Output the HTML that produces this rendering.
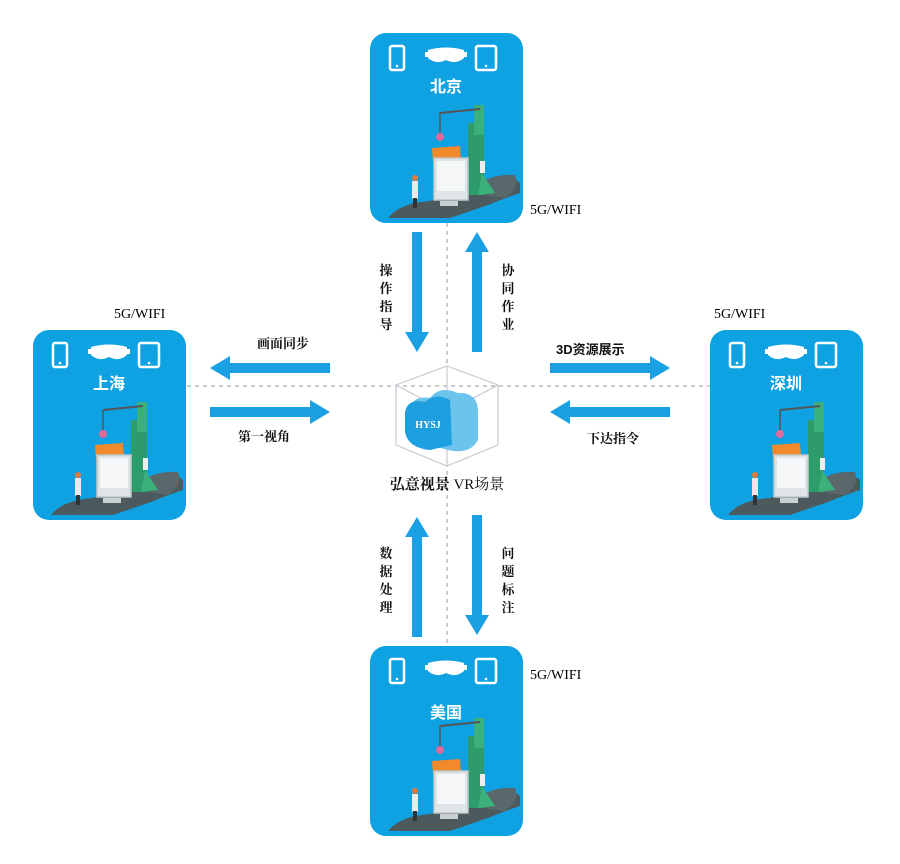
<!DOCTYPE html>
<html><head><meta charset="utf-8"><style>
html,body{margin:0;padding:0;background:#fff;}
svg{display:block;}
text{font-family:"Liberation Serif","Noto Serif CJK SC",serif;}
.cn{font-family:"Liberation Sans","Noto Sans CJK SC",sans-serif;font-weight:bold;}
</style></head><body>
<svg width="900" height="864" viewBox="0 0 900 864" xmlns="http://www.w3.org/2000/svg">
<defs>
<g id="card">
  <rect x="0" y="0" width="153" height="190" rx="16" fill="#0ea2e3"/>
  <!-- phone -->
  <rect x="20" y="13" width="14" height="24" rx="2" fill="none" stroke="#fff" stroke-width="2.5"/>
  <circle cx="27" cy="33" r="1.3" fill="#fff"/>
  <!-- goggles -->
  <path d="M58 17 Q76 12 94 17 L94 25 Q86 32 76 27 Q66 32 58 25 Z" fill="#fff"/>
  <rect x="55" y="19" width="3" height="5" fill="#fff"/><rect x="94" y="19" width="3" height="5" fill="#fff"/>
  <!-- tablet -->
  <rect x="106" y="13" width="20" height="24" rx="2" fill="none" stroke="#fff" stroke-width="2.5"/>
  <circle cx="116" cy="33" r="1.3" fill="#fff"/>
  <!-- illustration -->
  <path d="M18 185 Q30 170 60 168 L110 150 Q140 140 150 150 L150 160 Q135 165 118 172 L80 185 Z" fill="#4c5a5e"/>
  <path d="M100 160 Q115 140 145 142 Q150 155 135 165 Z" fill="#5a686b"/>
  <rect x="98" y="90" width="16" height="72" fill="#2e9b6a"/>
  <rect x="104" y="72" width="10" height="30" fill="#3bb07a"/>
  <line x1="70" y1="80" x2="110" y2="76" stroke="#555" stroke-width="2"/>
  <line x1="70" y1="80" x2="70" y2="100" stroke="#555" stroke-width="1.5"/>
  <circle cx="70" cy="104" r="4" fill="#e06a9a"/>
  <path d="M62 115 L90 113 L92 140 L64 142 Z" fill="#f08a2a"/>
  <rect x="64" y="125" width="34" height="42" fill="#dfe4e6" stroke="#bfc7ca" stroke-width="1.5"/>
  <rect x="67" y="128" width="28" height="30" fill="#f5f7f8"/>
  <rect x="70" y="168" width="18" height="5" fill="#c9d0d3"/>
  <rect x="42" y="148" width="6" height="18" fill="#e8eaeb"/>
  <rect x="43" y="165" width="4" height="10" fill="#333"/>
  <circle cx="45" cy="145" r="3" fill="#e07a3a"/>
  <rect x="110" y="128" width="5" height="12" fill="#eee"/>
  <path d="M112 140 L125 160 L108 162 Z" fill="#3bb07a"/>
</g>
<g id="arrowR"><path d="M0 -5 L100 -5 L100 -12 L120 0 L100 12 L100 5 L0 5 Z" fill="#1aa0e3"/></g>
</defs>

<!-- dashed lines -->
<line x1="187" y1="386" x2="710" y2="386" stroke="#9a9a9a" stroke-dasharray="4,4" stroke-width="1"/>
<line x1="447" y1="223" x2="447" y2="645" stroke="#9a9a9a" stroke-dasharray="4,4" stroke-width="1"/>

<!-- cards -->
<use href="#card" x="370" y="33"/>
<use href="#card" x="33" y="330"/>
<use href="#card" x="710" y="330"/>
<use href="#card" x="370" y="646"/>

<text x="446" y="92" class="cn" font-size="16" fill="#fff" text-anchor="middle">北京</text>
<text x="109" y="389" class="cn" font-size="16" fill="#fff" text-anchor="middle">上海</text>
<text x="786" y="389" class="cn" font-size="16" fill="#fff" text-anchor="middle">深圳</text>
<text x="446" y="718" class="cn" font-size="16" fill="#fff" text-anchor="middle">美国</text>

<text x="530" y="214" font-size="14">5G/WIFI</text>
<text x="114" y="318" font-size="14">5G/WIFI</text>
<text x="714" y="318" font-size="14">5G/WIFI</text>
<text x="530" y="679" font-size="14">5G/WIFI</text>

<!-- arrows vertical top -->
<use href="#arrowR" transform="translate(417,232) rotate(90)"/>
<use href="#arrowR" transform="translate(477,352) rotate(-90)"/>
<!-- bottom -->
<use href="#arrowR" transform="translate(417,637) rotate(-90)"/>
<use href="#arrowR" transform="translate(477,515) rotate(90)"/>
<!-- left -->
<use href="#arrowR" transform="translate(330,368) rotate(180)"/>
<use href="#arrowR" transform="translate(210,412)"/>
<!-- right -->
<use href="#arrowR" transform="translate(550,368)"/>
<use href="#arrowR" transform="translate(670,412) rotate(180)"/>

<!-- labels -->
<g class="cn" font-size="13" fill="#111" text-anchor="middle">
<text x="386" y="275">操</text><text x="386" y="293">作</text><text x="386" y="311">指</text><text x="386" y="329">导</text>
<text x="508" y="275">协</text><text x="508" y="293">同</text><text x="508" y="311">作</text><text x="508" y="329">业</text>
<text x="386" y="558">数</text><text x="386" y="576">据</text><text x="386" y="594">处</text><text x="386" y="612">理</text>
<text x="508" y="558">问</text><text x="508" y="576">题</text><text x="508" y="594">标</text><text x="508" y="612">注</text>
<text x="283" y="348">画面同步</text>
<text x="264" y="441">第一视角</text>
<text x="613" y="443">下达指令</text>
</g>
<text x="556" y="354" class="cn" font-size="13" fill="#111">3D资源展示</text>

<!-- center cube -->
<g stroke="#c8c8d4" stroke-width="1.2" fill="none">
<path d="M447 366 L498 385 L498 445 L447 466 L396 445 L396 385 Z"/>
<path d="M447 366 L447 412 M396 385 L447 412 L498 385 M447 412 L447 466"/>
</g>
<path d="M410 410 Q412 395 430 398 Q440 385 458 393 Q478 392 478 412 L478 440 Q470 455 448 450 L418 442 Q408 438 410 425 Z" fill="#6cc3ec"/>
<path d="M405 412 Q408 398 425 402 Q435 392 450 400 L452 445 L430 450 Q408 448 405 432 Z" fill="#1e9fe0"/>
<text x="428" y="428" font-family="Liberation Sans,sans-serif" font-weight="bold" font-size="10" fill="#fff" text-anchor="middle">HYSJ</text>
<text x="447" y="489" font-size="15" fill="#111" text-anchor="middle"><tspan font-weight="bold">弘意视景</tspan> VR场景</text>
</svg>
</body></html>
